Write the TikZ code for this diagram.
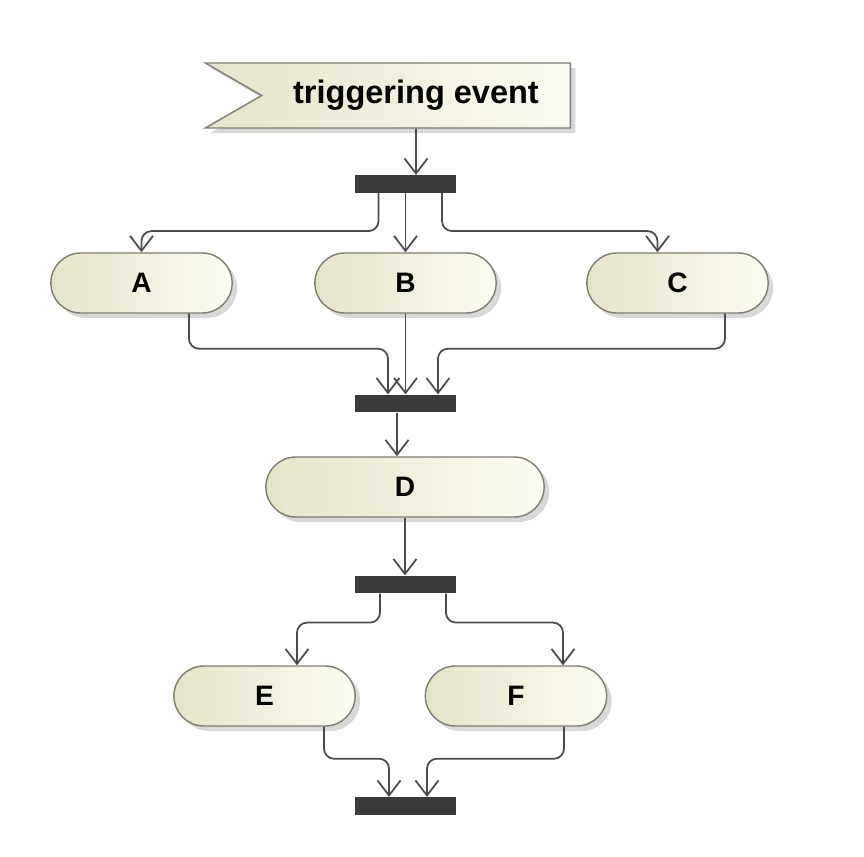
\documentclass[tikz,border=0pt]{standalone}
\usepackage{fontspec}
\setmainfont{Liberation Sans}
\usepackage{tikz}
\usetikzlibrary{shapes.misc,shapes.symbols,shadows,arrows.meta}

\definecolor{umlbeige}{RGB}{230,228,200}
\definecolor{umllight}{RGB}{251,251,243}
\definecolor{umlborder}{RGB}{125,125,112}
\definecolor{umlbar}{RGB}{58,58,58}
\definecolor{umlline}{RGB}{75,75,75}

\tikzset{
  action/.style={rounded rectangle,draw=umlborder,line width=0.8pt,
    left color=umlbeige,right color=umllight,
    minimum width=3.86cm,minimum height=1.2cm,
    drop shadow={shadow xshift=0.1cm,shadow yshift=-0.1cm,fill=black!30},
    font=\fontsize{16}{18}\selectfont\bfseries},
  signalbox/.style={signal,signal from=west,signal to=nowhere,signal pointer angle=60,
    draw=umlborder,line width=0.8pt,left color=umlbeige,right color=umllight,
    minimum width=7.3cm,minimum height=1.3cm,
    drop shadow={shadow xshift=0.1cm,shadow yshift=-0.1cm,fill=black!30},
    font=\fontsize{18.5}{21}\selectfont\bfseries},
  syncbar/.style={rectangle,fill=umlbar,minimum width=2.02cm,minimum height=0.35cm,inner sep=0pt},
  flow/.style={draw=umlline,line width=1pt,rounded corners=0.2cm,
    -{Straight Barb[length=0.3cm,width=0.46cm]}}
}

\begin{document}
\begin{tikzpicture}
  \useasboundingbox (0,0) rectangle (17.28,-17.14);

  \node[signalbox] (trig) at (8.32,-1.91) {triggering event};
  \node[syncbar] (fork1) at (8.11,-3.68) {};
  \node[action] (A) at (2.83,-5.66) {A};
  \node[action] (B) at (8.11,-5.66) {B};
  \node[action] (C) at (13.55,-5.66) {C};
  \node[syncbar] (join1) at (8.11,-8.07) {};
  \node[action,minimum width=5.8cm] (D) at (8.1,-9.74) {D};
  \node[syncbar] (fork2) at (8.11,-11.69) {};
  \node[action] (E) at (5.29,-13.92) {E};
  \node[action] (F) at (10.32,-13.92) {F};
  \node[syncbar] (join2) at (8.11,-16.12) {};

  \draw[flow] (trig.south) -- (trig.south |- fork1.north);

  \draw[flow] ([xshift=-0.54cm]fork1.south) -- ++(0,-0.76) -| (A.north);
  \draw[flow] (fork1.south) -- (B.north);
  \draw[flow] ([xshift=0.73cm]fork1.south) -- ++(0,-0.76) -| ([xshift=-0.4cm]C.north);

  \draw[flow] ([xshift=0.95cm]A.south) -- ++(0,-0.7) -| ([xshift=-0.35cm]join1.north);
  \draw[flow] (B.south) -- (B.south |- join1.north);
  \draw[flow] ([xshift=0.95cm]C.south) -- ++(0,-0.7) -| ([xshift=0.65cm]join1.north);

  \draw[flow] ([xshift=-0.17cm]join1.south) -- ([xshift=-0.17cm]join1.south |- D.north);
  \draw[flow] (D.south) -- (D.south |- fork2.north);

  \draw[flow] ([xshift=-0.51cm]fork2.south) -- ++(0,-0.58) -| ([xshift=0.65cm]E.north);
  \draw[flow] ([xshift=0.81cm]fork2.south) -- ++(0,-0.58) -| ([xshift=0.94cm]F.north);

  \draw[flow] ([xshift=1.19cm]E.south) -- ++(0,-0.64) -| ([xshift=-0.33cm]join2.north);
  \draw[flow] ([xshift=0.96cm]F.south) -- ++(0,-0.64) -| ([xshift=0.43cm]join2.north);
\end{tikzpicture}
\end{document}
